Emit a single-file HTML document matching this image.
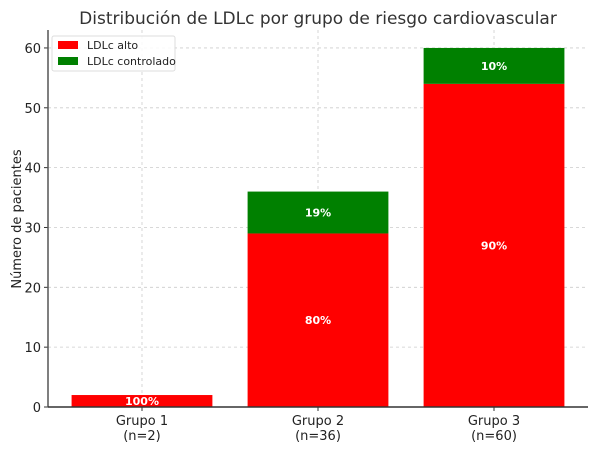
<!DOCTYPE html>
<html><head><meta charset="utf-8"><style>
body{margin:0;background:#fff;}
svg text{font-family:"DejaVu Sans","Liberation Sans",sans-serif;}
</style></head><body>
<svg width="600" height="449" viewBox="0 0 600 449">
<rect x="0" y="0" width="600" height="449" fill="#fff"/>
<text x="318" y="24" text-anchor="middle" font-size="17" fill="#333">Distribución de LDLc por grupo de riesgo cardiovascular</text>
<g id="grid"></g>
<g id="bars"></g>
<g id="axes"></g>
<text transform="translate(21,219) rotate(-90)" text-anchor="middle" font-size="13" fill="#222">Número de pacientes</text>
<g>
<rect x="52" y="36" width="123" height="35" fill="#fff" fill-opacity="0.85" stroke="#ddd" rx="2"/>
<rect x="58" y="41" width="20" height="8" fill="#ff0000"/>
<text x="87" y="49" font-size="11" fill="#222">LDLc alto</text>
<rect x="58" y="57" width="20" height="8" fill="#008000"/>
<text x="87" y="65" font-size="11" fill="#222">LDLc controlado</text>
</g>
</svg>
<script>
const categories=["Grupo 1","Grupo 2","Grupo 3"];
const sizes=["(n=2)","(n=36)","(n=60)"];
const alto=[2,29,54];
const controlado=[0,7,6];
const altoLabels=["100%","80%","90%"];
const ctrlLabels=["","19%","10%"];
const yTicks=[0,10,20,30,40,50,60];
const NS="http://www.w3.org/2000/svg";
const L=48,R=588,B=407,T=30;
const yMax=63;
function y(v){return B-(v/yMax)*(B-T);}
function x(i){return L+(i+0.534)/3.068*(R-L);}
const bw=0.8/3.068*(R-L);
function mk(tag,attrs,parent,txt){const e=document.createElementNS(NS,tag);for(const k in attrs)e.setAttribute(k,attrs[k]);if(txt!==undefined)e.textContent=txt;document.getElementById(parent).appendChild(e);return e;}
yTicks.forEach(t=>{
 const g=mk('line',{x1:L,x2:R,y1:y(t),y2:y(t),stroke:'#ccc','stroke-dasharray':'3,3','stroke-width':0.8},'grid');
 
 
 const tk=mk('line',{x1:L-4,x2:L,y1:y(t),y2:y(t),stroke:'#333'},'axes');
 
 
 const lb=mk('text',{x:L-7,y:y(t)+5,'text-anchor':'end','font-size':13,fill:'#222'},'axes',t);
 
 
});
categories.forEach((c,i)=>{
 const gl=mk('line',{x1:x(i),x2:x(i),y1:T,y2:B,stroke:'#ccc','stroke-dasharray':'3,3','stroke-width':0.8},'grid');
 
 
 const r1=mk('rect',{x:x(i)-bw/2,y:y(alto[i]),width:bw,height:y(0)-y(alto[i]),fill:'#ff0000'},'bars');
 
 
 const r2=mk('rect',{x:x(i)-bw/2,y:y(alto[i]+controlado[i]),width:bw,height:y(alto[i])-y(alto[i]+controlado[i]),fill:'#008000'},'bars');
 
 
 const t1=mk('text',{x:x(i),y:y(alto[i]/2)+4,'text-anchor':'middle','font-size':11,'font-weight':'bold',fill:'#fff'},'bars',altoLabels[i]);
 
 
 if(ctrlLabels[i]){
  const t2=mk('text',{x:x(i),y:y(alto[i]+controlado[i]/2)+4,'text-anchor':'middle','font-size':11,'font-weight':'bold',fill:'#fff'},'bars',ctrlLabels[i]);
  
  
 }
 const tk=mk('line',{x1:x(i),x2:x(i),y1:B,y2:B+4,stroke:'#333'},'axes');
 
 
 const l1=mk('text',{x:x(i),y:B+18,'text-anchor':'middle','font-size':13,fill:'#222'},'axes',c);
 
 
 const l2=mk('text',{x:x(i),y:B+33,'text-anchor':'middle','font-size':13,fill:'#222'},'axes',sizes[i]);
 
 
});
const ya=mk('line',{x1:L,x2:L,y1:T,y2:B,stroke:'#555','stroke-width':1.5},'axes');


const xa=mk('line',{x1:L,x2:R,y1:B,y2:B,stroke:'#333','stroke-width':1.5},'axes');


</script>
</body></html>
